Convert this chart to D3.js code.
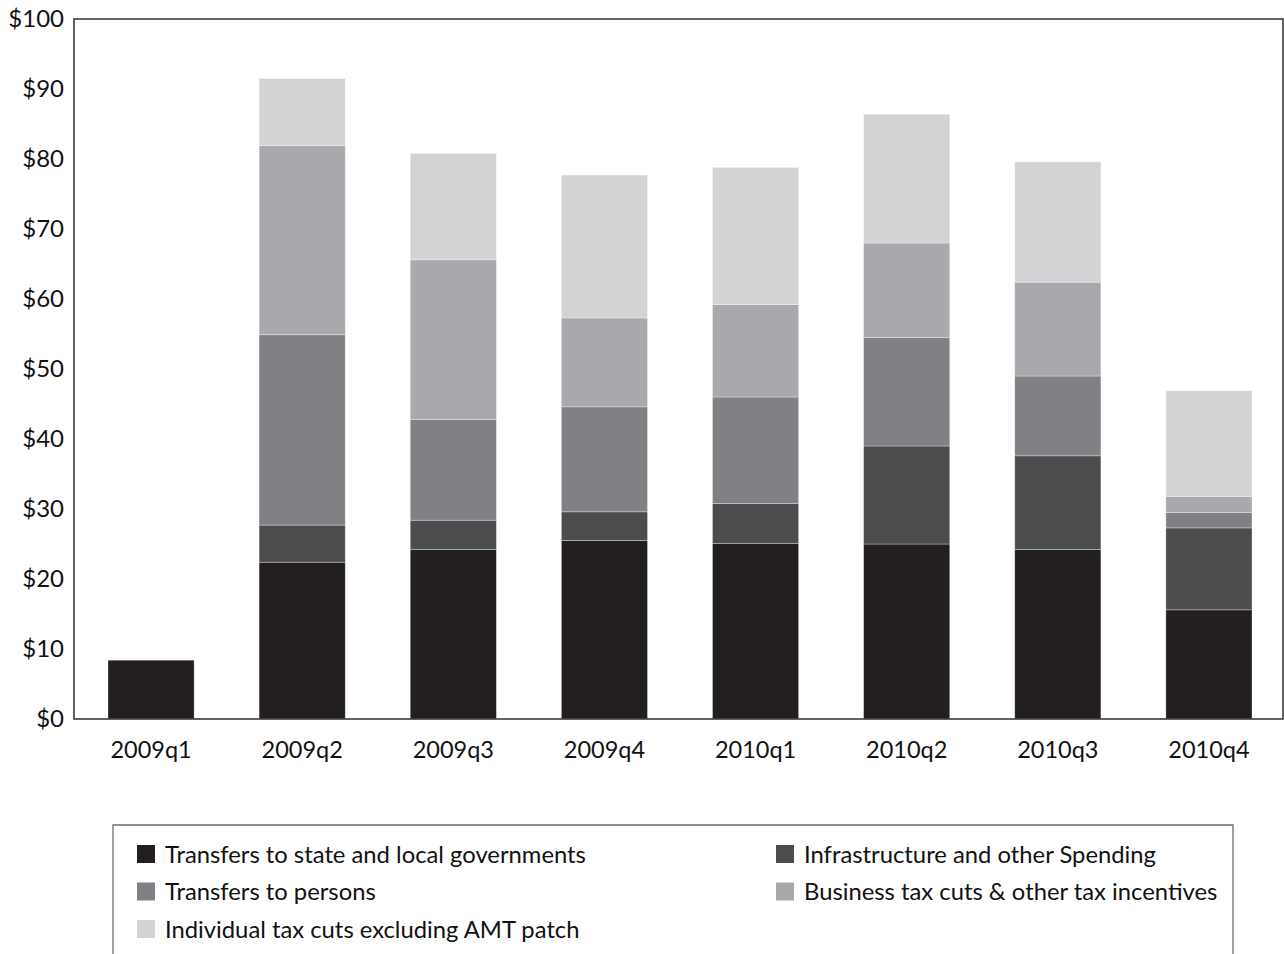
<!DOCTYPE html>
<html>
<head>
<meta charset="utf-8">
<script src="https://cdn.jsdelivr.net/npm/d3@7"></script>
<style>
  html, body { margin: 0; padding: 0; background: #ffffff; }
  svg { display: block; font-family: "Lato", "Open Sans", sans-serif; }
</style>
</head>
<body>
<svg id="chart" width="1284" height="954"></svg>
<script>
// Quarters on the x axis
const quarters = ["2009q1", "2009q2", "2009q3", "2009q4", "2010q1", "2010q2", "2010q3", "2010q4"];

// Stack components, bottom to top (billions of dollars)
const stateLocal     = [8.4, 22.4, 24.2, 25.5, 25.1, 25.0, 24.2, 15.6];
const infrastructure = [0.0,  5.3,  4.2,  4.1,  5.7, 14.0, 13.4, 11.7];
const persons        = [0.0, 27.2, 14.4, 15.0, 15.2, 15.5, 11.4,  2.2];
const business       = [0.0, 27.0, 22.8, 12.7, 13.2, 13.5, 13.4,  2.3];
const individual     = [0.0,  9.6, 15.2, 20.4, 19.6, 18.4, 17.2, 15.1];

const seriesKeys = ["stateLocal", "infrastructure", "persons", "business", "individual"];
const seriesNames = [
  "Transfers to state and local governments",
  "Infrastructure and other Spending",
  "Transfers to persons",
  "Business tax cuts & other tax incentives",
  "Individual tax cuts excluding AMT patch"
];
const seriesColors = ["#231f20", "#4b4c4e", "#808184", "#a7a9ac", "#d1d3d4"];

const yTicks = [0, 10, 20, 30, 40, 50, 60, 70, 80, 90, 100];

// Build row objects for d3.stack
const columns = { stateLocal, infrastructure, persons, business, individual };
const rows = quarters.map((q, i) => {
  const r = { quarter: q };
  seriesKeys.forEach(k => { r[k] = columns[k][i]; });
  return r;
});

const svg = d3.select("#chart");

const plot = { left: 74, right: 1283, top: 19, bottom: 719 };

const x = d3.scaleBand()
  .domain(quarters)
  .range([plot.left + 1.5, plot.right + 1.5])
  .paddingInner(0.43)
  .paddingOuter(0.215);

const y = d3.scaleLinear()
  .domain([0, 100])
  .range([plot.bottom, plot.top]);

const color = d3.scaleOrdinal().domain(seriesKeys).range(seriesColors);

const stacked = d3.stack().keys(seriesKeys)(rows);

// Stacked bars
svg.append("g")
  .selectAll("g")
  .data(stacked)
  .join("g")
  .attr("fill", d => color(d.key))
  .selectAll("rect")
  .data(d => d.filter(s => s[1] - s[0] > 0))
  .join("rect")
  .attr("x", d => x(d.data.quarter))
  .attr("width", x.bandwidth())
  .attr("y", d => y(d[1]))
  .attr("height", d => y(d[0]) - y(d[1]))
  .attr("stroke", "rgba(255,255,255,0.4)")
  .attr("stroke-width", 0.8);

// Plot frame
svg.append("rect")
  .attr("x", plot.left)
  .attr("y", plot.top)
  .attr("width", plot.right - plot.left)
  .attr("height", plot.bottom - plot.top)
  .attr("fill", "none")
  .attr("stroke", "#3c3c3c")
  .attr("stroke-width", 1.6);

// Y axis labels
const yAxis = d3.axisLeft(y)
  .tickValues(yTicks)
  .tickSize(0)
  .tickPadding(10)
  .tickFormat(d => "$" + d);

svg.append("g")
  .attr("transform", `translate(${plot.left},0)`)
  .call(yAxis)
  .call(g => g.select(".domain").remove())
  .call(g => g.selectAll("text")
    .attr("font-family", "Lato, 'Open Sans', sans-serif")
    .attr("font-size", 24)
    .attr("fill", "#111"));

// X axis labels
const xAxis = d3.axisBottom(x).tickSize(0).tickPadding(22);

svg.append("g")
  .attr("transform", `translate(0,${plot.bottom})`)
  .call(xAxis)
  .call(g => g.select(".domain").remove())
  .call(g => g.selectAll("text")
    .attr("font-family", "Lato, 'Open Sans', sans-serif")
    .attr("font-size", 23.5)
    .attr("fill", "#111"));

// Legend box (open at the bottom edge of the page)
const legend = svg.append("g");
legend.append("path")
  .attr("d", "M113,960 V825 H1233 V960")
  .attr("fill", "none")
  .attr("stroke", "#6d6e70")
  .attr("stroke-width", 1.3);

const legendOrder = [0, 1, 2, 3, 4];
const colX = [137, 776];
const rowY = [845, 882.5, 920];

const items = legend.selectAll("g.item")
  .data(legendOrder)
  .join("g")
  .attr("class", "item")
  .attr("transform", (d, i) => `translate(${colX[i % 2]},${rowY[Math.floor(i / 2)]})`);

items.append("rect")
  .attr("width", 18)
  .attr("height", 18)
  .attr("fill", d => seriesColors[d]);

items.append("text")
  .attr("x", 28)
  .attr("y", 17.5)
  .attr("font-family", "Lato, 'Open Sans', sans-serif")
  .attr("font-size", 23.8)
  .attr("fill", "#111")
  .text(d => seriesNames[d]);
</script>
</body>
</html>
